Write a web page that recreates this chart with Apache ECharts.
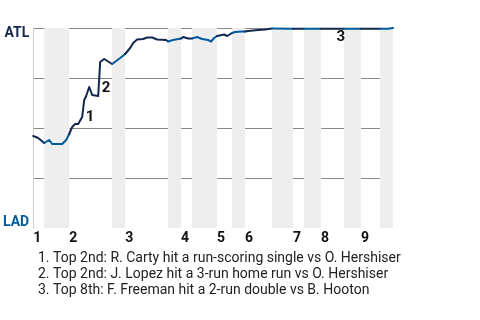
<!DOCTYPE html>
<html>
<head>
<meta charset="utf-8">
<script src="https://cdn.jsdelivr.net/npm/echarts@6/dist/echarts.min.js"></script>
<style>html,body{margin:0;padding:0;background:#fff;}#c{width:480px;height:320px;}</style>
</head>
<body>
<div id="c"></div>
<script>
// Half-inning boundaries on a 0-100 game-progress axis (top 1, bottom 1, top 2, ...)
const halfBounds = [0, 3.06, 10, 21.94, 25.56, 37.5, 41.11, 44.17, 51.11, 55.28, 58.89, 66.39, 72.22, 75.28, 80, 86.39, 91.11, 96.39, 100];
const inningLabels = ['1','2','3','4','5','6','7','8','9'];
// ATL win probability (%) by game progress
const winProb = [
  [0,46],[1.39,45],[3.06,42.5],[4.44,44],[5.28,42],[8.06,42],[9.17,44],[10,47],
  [10.83,50.5],[11.67,52],[12.5,52],[13.61,55.5],[14.17,64],[14.72,66],[15.56,70.5],[16.39,66.5],[18.06,66],[18.61,83],[19.72,84.5],[21.94,82],
  [24.17,85],[25.56,87],
  [26.94,90],[27.78,92.5],[28.89,94.25],[30.56,94.5],[31.67,95.25],[33.06,95.25],[34.44,94.25],[36.94,94],[37.5,93.25],
  [37.78,93],[38.89,94],[41.11,94.75],
  [41.67,95.5],[43.06,94.75],[44.17,94.75],
  [45.56,95.5],[46.94,94.5],[48.61,94],[49.44,93.25],[50.28,95],[51.11,96],
  [53.06,96.75],[53.89,96],[55.28,97.5],
  [56.11,98],[58.06,98.25],[58.89,98.25],
  [59.72,98.5],[61.11,98.75],[62.5,99],[64.44,99.25],[66.39,99.75],
  [72.22,99.65],[75.28,99.65],[80,99.65],[86.39,99.65],[91.11,99.65],[96.39,99.65],[98.6,99.65],[100,100]
];
// Key events: [progress, win prob at label anchor, label]
const eventMarks = [[14.17,59.75,'1'],[18.61,74.5,'2'],[83.9,99.8,'3']];
const eventNotes = [
  '1. Top 2nd: R. Carty hit a run-scoring single vs O. Hershiser',
  '2. Top 2nd: J. Lopez hit a 3-run home run vs O. Hershiser',
  '3. Top 8th: F. Freeman hit a 2-run double vs B. Hooton'
];
const teams = {top: 'ATL', bottom: 'LAD'};

const NAVY = '#13274F', BLUE = '#005A9C';
const innStarts = halfBounds.filter((v, i) => i % 2 === 0 && i < halfBounds.length - 1);
const bands = [];
const series = [];
for (let i = 0; i < halfBounds.length - 1; i++) {
  const lo = halfBounds[i], hi = halfBounds[i + 1];
  if (i % 2 === 1) bands.push([{xAxis: lo}, {xAxis: hi}]);
  series.push({
    type: 'line', symbol: 'none', z: 5, silent: true,
    data: winProb.filter(d => d[0] >= lo && d[0] <= hi),
    lineStyle: {width: 2, color: i % 2 === 0 ? NAVY : BLUE, cap: 'round', join: 'round'}
  });
}
series.push({
  type: 'line', data: [[0, 0], [100, 0]], symbol: 'none', lineStyle: {opacity: 0}, silent: true, z: 1,
  markArea: {silent: true, itemStyle: {color: '#eeeeee'}, data: bands}
});
series.push({
  type: 'scatter', data: eventMarks.map(e => [e[0], e[1], e[2]]), symbolSize: 1, z: 6, silent: true,
  itemStyle: {color: 'rgba(0,0,0,0)', opacity: 1},
  label: {
    show: true, position: 'right', distance: 0, offset: [1, 9], align: 'left', verticalAlign: 'middle',
    formatter: p => p.data[2], textBorderWidth: 0, opacity: 1,
    fontFamily: 'Roboto', fontSize: 15, fontWeight: 'bold', color: '#111111'
  }
});

const chart = echarts.init(document.getElementById('c'), null, {renderer: 'canvas'});
chart.setOption({
  animation: false,
  backgroundColor: '#fff',
  textStyle: {fontFamily: 'Roboto'},
  title: {
    text: eventNotes.join('\n'),
    left: 33, top: 245,
    textStyle: {fontFamily: 'Roboto', fontSize: 14, fontWeight: 'normal', color: '#222', lineHeight: 16}
  },
  grid: {left: 33, right: 87, top: 28, bottom: 92, containLabel: false},
  xAxis: {
    type: 'value', min: 0, max: 100,
    axisLine: {show: false}, axisTick: {show: false}, splitLine: {show: false},
    axisLabel: {
      customValues: innStarts, showMinLabel: true, showMaxLabel: true,
      align: 'left', margin: 3,
      fontFamily: 'Roboto', fontSize: 14, fontWeight: 'bold', color: '#111',
      formatter: v => inningLabels[innStarts.indexOf(v)] || ''
    }
  },
  yAxis: {
    type: 'value', min: 0, max: 100, interval: 25,
    axisLine: {show: true, lineStyle: {color: '#cccccc', width: 1}},
    axisTick: {show: false},
    splitLine: {show: true, showMinLine: false, lineStyle: {color: '#888888', width: 1}},
    axisLabel: {
      margin: 4,
      formatter: v => v === 100 ? '{a|' + teams.top + '}' : (v === 0 ? '{b|' + teams.bottom + '}' : ''),
      rich: {
        a: {fontFamily: 'Roboto', fontSize: 14, fontWeight: 'bold', color: NAVY, padding: [11, 0, 0, 0]},
        b: {fontFamily: 'Roboto', fontSize: 14, fontWeight: 'bold', color: BLUE, padding: [0, 0, 12, 0]}
      }
    }
  },
  series: series
});
</script>
</body>
</html>
